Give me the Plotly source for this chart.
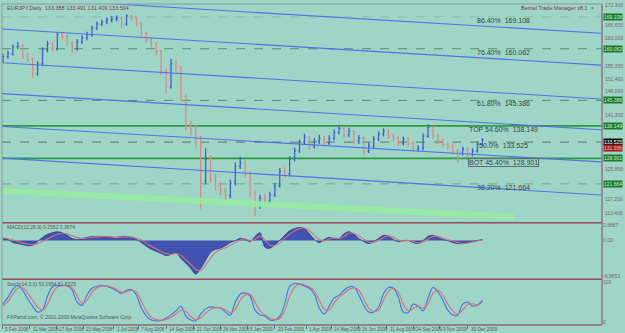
import plotly.graph_objects as go

# ---------------- data ----------------
bar_idx = list(range(3, 489, 5))
opens = [156.8,157.8,158.6,160.6,160.9,157.8,157.0,153.0,155.8,159.8,161.5,160.1,164.0,163.5,161.5,160.1,162.0,163.2,164.0,166.0,
         167.1,167.7,168.3,168.5,168.8,167.1,169.4,168.8,167.1,164.3,162.6,161.5,159.2,153.6,149.3,155.8,154.7,146.5,138.0,137.2,
         134.6,122.5,128.7,123.1,121.1,119.7,118.3,121.9,126.7,127.6,124.7,119.1,115.4,117.7,116.9,118.5,121.1,125.3,124.5,128.7,
         131.0,133.5,134.9,132.4,133.8,134.6,133.2,134.6,136.3,137.4,135.6,136.6,133.8,134.6,131.0,132.4,134.4,135.8,136.6,135.2,
         134.6,133.2,134.4,133.2,131.5,131.8,135.2,137.7,135.2,133.8,132.9,132.4,131.0,130.4,131.5,130.1,131.0,132.9]
highs = [158.6,159.4,161.3,162.0,161.4,158.9,157.6,156.6,160.5,162.3,162.0,164.8,164.9,164.1,162.2,162.8,164.0,164.9,166.7,167.8,
         168.4,169.0,169.3,169.5,169.2,169.9,169.8,169.2,167.5,164.9,163.3,162.0,159.7,154.4,157.2,156.9,155.3,147.1,139.6,138.4,
         135.3,131.8,129.9,124.6,122.3,120.6,122.9,127.8,129.4,128.3,125.4,119.8,118.6,118.9,119.4,121.9,126.2,126.4,129.5,131.9,
         134.3,135.9,135.4,134.7,135.6,135.3,135.5,137.1,138.4,138.0,137.6,137.1,135.5,135.1,133.3,135.2,136.6,137.5,137.2,135.9,
         135.2,135.1,134.9,133.8,132.7,136.0,138.6,138.0,135.9,134.5,133.6,133.0,131.6,132.3,132.0,131.8,133.6,134.7]
lows = [156.0,157.2,158.1,159.9,157.0,156.2,151.8,152.4,155.1,159.0,159.3,159.6,162.6,160.7,159.0,159.5,161.4,162.5,163.5,165.4,
        166.5,167.0,167.6,167.9,165.9,166.6,168.0,166.4,163.5,161.8,160.4,158.3,152.5,147.4,148.8,153.6,145.2,136.9,135.4,132.0,
        114.6,121.5,122.0,119.8,118.4,116.9,117.6,121.2,125.9,123.5,117.8,112.6,114.5,115.9,115.8,117.9,120.6,123.3,124.0,128.0,
        130.4,132.8,131.3,131.7,133.0,132.3,132.6,134.0,135.7,134.8,134.9,132.9,133.0,129.8,130.4,131.8,133.8,135.1,134.4,133.7,
        132.4,132.6,132.3,130.6,130.8,131.2,134.7,134.4,133.0,132.0,131.5,130.1,127.6,129.7,129.4,129.5,130.5,132.4]
closes = [157.8,158.6,160.6,160.9,157.8,157.0,153.0,155.8,159.8,161.5,160.1,164.0,163.5,161.5,160.1,162.0,163.2,164.0,166.0,167.1,
          167.7,168.3,168.5,168.8,167.1,169.4,168.8,167.1,164.3,162.6,161.5,159.2,153.6,149.3,155.8,154.7,146.5,138.0,137.2,134.6,
          122.5,128.7,123.1,121.1,119.7,118.3,121.9,126.7,127.6,124.7,119.1,115.4,117.7,116.9,118.5,121.1,125.3,124.5,128.7,131.0,
          133.5,134.9,132.4,133.8,134.6,133.2,134.6,136.3,137.4,135.6,136.6,133.8,134.6,131.0,132.4,134.4,135.8,136.6,135.2,134.6,
          133.2,134.4,133.2,131.5,131.8,135.2,137.7,135.2,133.8,132.9,132.4,131.0,130.4,131.5,130.1,131.0,132.9,134.1]

macd_hist = [0.4,0.2,-0.4,-0.6,-0.8,-1.0,-0.9,-0.2,0.6,1.2,1.5,1.7,1.5,1.0,0.4,0.2,0.4,0.6,0.8,0.8,
             0.8,0.7,0.6,0.6,0.8,0.8,0.6,0.2,-0.4,-1.1,-1.7,-2.1,-2.5,-2.9,-2.7,-2.3,-3.5,-4.4,-5.4,-6.5,
             -5.4,-3.8,-2.3,-1.7,-1.5,-1.0,-0.4,0.0,0.4,0.2,-0.2,0.8,1.5,-1.3,-1.5,-0.8,0.0,1.0,1.9,2.3,
             2.5,2.3,1.3,0.2,-0.4,0.2,0.6,0.4,0.4,1.3,1.7,1.2,0.4,-0.2,-0.6,-0.2,0.4,1.0,0.8,0.2,
             -0.2,0.0,0.0,-0.4,-0.6,0.0,0.8,1.0,0.6,0.2,0.0,-0.4,-0.6,-0.6,-0.4,-0.2,0.0,0.2]
macd_signal = [0.5,0.4,0.1,-0.2,-0.5,-0.7,-0.8,-0.6,-0.2,0.3,0.8,1.2,1.4,1.3,0.9,0.6,0.4,0.5,0.6,0.7,
               0.8,0.8,0.7,0.6,0.7,0.7,0.7,0.5,0.1,-0.5,-1.1,-1.6,-2.1,-2.5,-2.7,-2.5,-2.9,-3.7,-4.6,-5.6,
               -5.8,-4.8,-3.4,-2.3,-1.8,-1.4,-0.9,-0.4,0.1,0.3,0.0,0.2,0.9,0.1,-0.9,-1.0,-0.5,0.4,1.2,1.9,
               2.3,2.4,1.9,1.0,0.2,-0.1,0.3,0.5,0.4,0.8,1.4,1.4,0.9,0.2,-0.3,-0.4,0.0,0.6,0.9,0.6,
               0.1,-0.1,0.0,-0.2,-0.5,-0.3,0.3,0.8,0.8,0.5,0.2,-0.1,-0.4,-0.6,-0.5,-0.3,-0.1,0.1]

stoch_main = [45,62,82,92,80,58,40,25,30,65,88,92,92,91,80,50,42,68,85,90,
              92,90,85,78,72,80,82,68,35,15,5,3,4,10,18,28,40,15,5,3,
              20,33,38,36,35,25,17,50,70,73,65,30,18,15,5,5,15,45,90,97,
              96,90,85,70,35,20,40,60,67,80,88,88,68,42,25,25,37,72,87,85,
              62,25,24,45,40,28,60,87,76,55,30,18,17,45,50,40,42,55]
stoch_signal = [40,52,70,85,86,72,55,38,30,45,72,88,92,92,86,65,48,55,75,86,
                90,91,88,82,75,76,80,76,52,28,12,6,4,6,12,20,30,26,14,6,
                10,22,32,36,36,31,23,32,55,68,70,50,28,18,10,6,9,28,65,88,
                96,94,88,78,55,32,30,48,62,72,82,86,80,58,35,26,30,55,78,85,
                74,45,28,34,40,35,45,72,80,68,45,28,20,30,44,46,43,50]

# Fibonacci levels
fib_levels = [169.108, 160.062, 145.386, 138.149, 133.525, 128.901, 121.664]
fib_labels = ["86.40%  169.108", "76.40%  160.062", "61.80%  145.386", "TOP 54.60%  138.149",
              "50.0%  133.525", "BOT 45.40%  128.901", "38.20%  121.664"]
fib_styles = ["dash", "dash", "dash", "solid", "dash", "solid", "dash"]
fib_colors = ["rgba(60,150,100,0.3)", "#4a9468", "#4a9468", "#2f9a3e", "#5f7470", "#2f9a3e", "#62b084"]
fib_widths = [1, 1, 1, 1.6, 1, 1.6, 1]
green_box_levels = [169.108, 160.062, 145.386, 138.149, 128.901, 121.664]

# Trend channel lines (start and end prices)
channel_x = [0, 608]
channel_start = [174.76, 165.72, 156.1, 147.35, 138.0, 129.0]
channel_end = [164.46, 155.42, 145.8, 137.05, 127.9, 118.5]
band_x = [0, 520]
band_y = [119.7, 112.3]

price_ticks = [172.3, 166.6, 163.0, 155.2, 151.4, 148.0, 141.3, 125.8, 117.2, 113.4]

date_pos = [2, 30, 57, 84, 115, 140, 168, 196, 223, 250, 278, 310, 335, 363, 391, 418, 445, 473]
date_labels = ["5 Feb 2008", "11 Mar 2008", "17 Apr 2008", "23 May 2008", "1 Jul 2008", "7 Aug 2008",
               "14 Sep 2008", "21 Oct 2008", "28 Nov 2008", "5 Jan 2009", "20 Feb 2009", "1 Apr 2009",
               "14 May 2009", "26 Jun 2009", "11 Aug 2009", "24 Sep 2009", "9 Nov 2009", "30 Dec 2009"]

# ---------------- figure ----------------
BG = "#9ed5c6"
FONT = "Liberation Sans"
fig = go.Figure()

for s, e in zip(channel_start, channel_end):
    fig.add_trace(go.Scatter(x=channel_x, y=[s, e], mode="lines", yaxis="y",
                             line=dict(color="#5272ea", width=1.1), hoverinfo="skip", showlegend=False))
fig.add_trace(go.Scatter(x=band_x, y=band_y, mode="lines", yaxis="y",
                         line=dict(color="rgba(150,235,160,0.9)", width=6), hoverinfo="skip", showlegend=False))

fig.add_trace(go.Ohlc(x=bar_idx, open=opens, high=highs, low=lows, close=closes, yaxis="y",
                      increasing=dict(line=dict(color="#3f5fd0", width=1.3)),
                      decreasing=dict(line=dict(color="#d98a88", width=1.3)),
                      tickwidth=0.25, showlegend=False, hoverinfo="skip"))

fig.add_trace(go.Scatter(x=bar_idx, y=macd_hist, yaxis="y2", mode="lines", fill="tozeroy",
                         fillcolor="#4252b0", line=dict(color="#2e3a98", width=0.8, shape="spline"),
                         showlegend=False, hoverinfo="skip"))
fig.add_trace(go.Scatter(x=bar_idx, y=macd_signal, yaxis="y2", mode="lines",
                         line=dict(color="#d8707c", width=1.1, shape="spline"), showlegend=False, hoverinfo="skip"))

fig.add_trace(go.Scatter(x=bar_idx, y=stoch_main, yaxis="y3", mode="lines",
                         line=dict(color="#4d6de6", width=1.1, shape="spline"), showlegend=False, hoverinfo="skip"))
fig.add_trace(go.Scatter(x=bar_idx, y=stoch_signal, yaxis="y3", mode="lines",
                         line=dict(color="#d8707c", width=1.1, shape="spline"), showlegend=False, hoverinfo="skip"))

shapes = []
for lv, st, col, w in zip(fib_levels, fib_styles, fib_colors, fib_widths):
    shapes.append(dict(type="line", xref="paper", x0=0, x1=1, yref="y", y0=lv, y1=lv,
                       line=dict(color=col, width=w, dash=st), layer="below"))
sep_col = "#9a4a5c"
for yy in [0.3189, 0.1424, 0.0]:
    shapes.append(dict(type="line", xref="paper", yref="paper", x0=0, x1=1, y0=yy, y1=yy,
                       line=dict(color=sep_col, width=1.5)))
shapes.append(dict(type="line", xref="paper", yref="paper", x0=1, x1=1, y0=0, y1=1,
                   line=dict(color=sep_col, width=1.2)))
shapes.append(dict(type="rect", xref="paper", yref="paper", x0=0, x1=1, y0=0, y1=1,
                   line=dict(color="#8a9aa0", width=1)))

ann = []
for lv, lb in zip(fib_levels, fib_labels):
    is_bot = lb.startswith("BOT")
    ann.append(dict(x=509, y=lv, xref="x", yref="y", text=lb, showarrow=False, yanchor="top",
                    xanchor="center", font=dict(family=FONT, size=7, color="#38424a"),
                    bordercolor="#606a70" if is_bot else None, borderwidth=1 if is_bot else 0,
                    borderpad=0))
for lv in green_box_levels:
    ann.append(dict(x=1.0, xref="paper", y=lv, yref="y", text=f"{lv:.3f}", showarrow=False, xanchor="left",
                    font=dict(family=FONT, size=5, color="#cfeecf"), bgcolor="#1c7a2c", borderpad=0, xshift=1))
ann.append(dict(x=1.0, xref="paper", y=133.7, yref="y", text="133.525", showarrow=False, xanchor="left",
                font=dict(family=FONT, size=5, color="#ffffff"), bgcolor="#101010", borderpad=0, xshift=1))
ann.append(dict(x=1.0, xref="paper", y=131.9, yref="y", text="131.936", showarrow=False, xanchor="left",
                font=dict(family=FONT, size=5, color="#f0d0d0"), bgcolor="#a01818", borderpad=0, xshift=1))

for p, lb in zip(date_pos, date_labels):
    ann.append(dict(x=p, xref="x", y=-0.013, yref="paper", text=lb, showarrow=False, xanchor="left",
                    yanchor="middle", xshift=1, font=dict(family=FONT, size=4.6, color="#505860")))

ann.append(dict(x=0.005, y=0.988, xref="paper", yref="paper", text="EURJPY,Daily  133.388 133.491 131.409 133.504",
                showarrow=False, xanchor="left", yanchor="middle", font=dict(family=FONT, size=5.5, color="#7a3a48")))
ann.append(dict(x=0.99, y=0.988, xref="paper", yref="paper", text="Bernal Trade Manager v8.1  ×",
                showarrow=False, xanchor="right", yanchor="middle", font=dict(family=FONT, size=5.5, color="#7a3a48")))
ann.append(dict(x=0.005, y=0.305, xref="paper", yref="paper", text="MACD(12,26,9) 0.2552 0.3674",
                showarrow=False, xanchor="left", yanchor="middle", font=dict(family=FONT, size=5, color="#505860")))
ann.append(dict(x=0.005, y=0.128, xref="paper", yref="paper", text="Stoch(14,3,3) 53.1954 51.6325",
                showarrow=False, xanchor="left", yanchor="middle", font=dict(family=FONT, size=5, color="#505860")))
ann.append(dict(x=0.005, y=0.008, xref="paper", yref="paper", text="FXPatrol.com, © 2001-2009 MetaQuotes Software Corp.",
                showarrow=False, xanchor="left", yanchor="bottom", font=dict(family=FONT, size=5, color="#505860")))

tickfont = dict(family=FONT, size=5, color="#7a6070")
fig.update_layout(
    width=625, height=333,
    margin=dict(l=2, r=16, t=2, b=8),
    paper_bgcolor=BG, plot_bgcolor=BG,
    showlegend=False,
    xaxis=dict(range=[2, 609], domain=[0, 1], anchor="y3", showgrid=False, zeroline=False,
               tickvals=date_pos, ticktext=[""] * len(date_pos), ticks="outside", ticklen=3,
               tickcolor="#606870", rangeslider=dict(visible=False), fixedrange=True),
    yaxis=dict(domain=[0.325, 1], range=[111.2, 172.78], side="right", anchor="x", showgrid=False,
               zeroline=False, tickvals=price_ticks, ticktext=[f"{v:.3f}" for v in price_ticks],
               tickfont=tickfont, ticks="", ticklabelstandoff=2),
    yaxis2=dict(domain=[0.1424, 0.3189], range=[-7.5, 3.46], side="right", anchor="x", showgrid=False,
                zeroline=False, tickvals=[2.8867, 0, -6.9], ticktext=["2.8867", "0.00", "-6.9653"],
                tickfont=tickfont, ticks=""),
    yaxis3=dict(domain=[0, 0.1393], range=[-7.5, 105], side="right", anchor="x", showgrid=False,
                zeroline=False, tickvals=[100, 0], ticktext=["100", "0"], tickfont=tickfont, ticks=""),
    shapes=shapes, annotations=ann,
)

fig.write_html("out.html")
